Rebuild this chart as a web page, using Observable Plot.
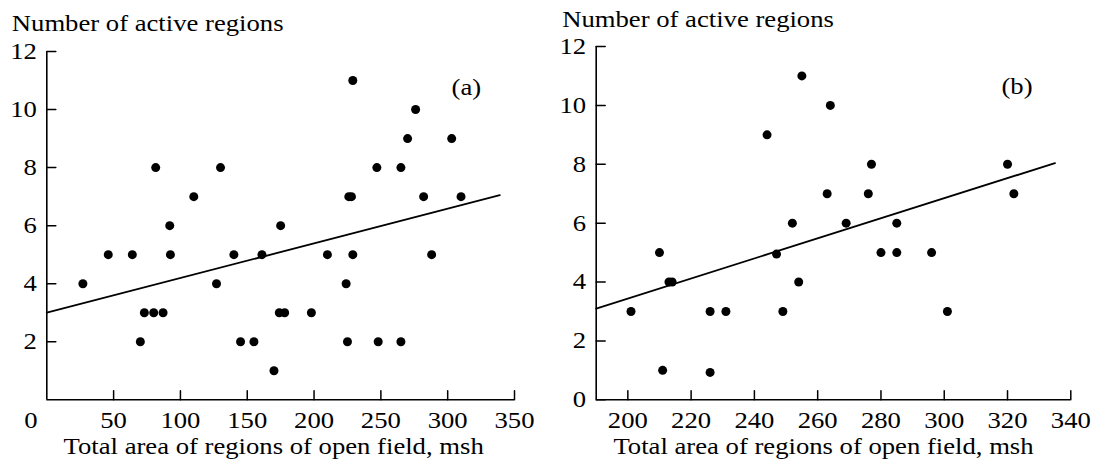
<!DOCTYPE html>
<html><head><meta charset="utf-8">
<script src="https://cdn.jsdelivr.net/npm/d3@7"></script>
<script src="https://cdn.jsdelivr.net/npm/@observablehq/plot@0.6"></script>
<style>
body{margin:0;background:#fff;}
#wrap{display:flex;width:1096px;height:464px;background:#fff;}
</style></head><body><div id="wrap"></div>
<script>
// Panel (a)
const aX = [27,46,64,70,73,80,87,81.5,92,92.5,110,127,130,140,145,155,161,170,174,175,178,198,210,224,225,226,228,229,229,247,248,265,265,270,276,282,288,303,310];
const aY = [4,5,5,2,3,3,3,8,6,5,7,4,8,5,2,2,5,1,3,6,3,3,5,4,2,7,7,11,5,8,2,8,2,9,10,7,5,9,7];
const aLineX = [0, 339];
const aLineY = [3.0, 7.05];
const aXTicks = [50,100,150,200,250,300,350];
const aYTicks = [2,4,6,8,10,12];
// Panel (b)
const bX = [201,210,211,213,214,226,226,231,244,247,249,252,254,255,263,264,269,276,277,280,285,285,296,301,320,322];
const bY = [3,5,1,4,4,3,0.93,3,9,4.95,3,6,4,11,7,10,6,7,8,5,6,5,5,3,8,7];
const bLineX = [190, 335];
const bLineY = [3.1, 8.04];
const bXTicks = [200,220,240,260,280,300,320,340];
const bYTicks = [0,2,4,6,8,10,12];

const yLabel = "Number of active regions";
const xLabel = "Total area of regions of open field, msh";
const FONT = "Liberation Serif";
const FS = 23;
const STRETCH = 1.16; // the reference type is horizontally wide

const tickUp = {draw(ctx, l) { ctx.moveTo(0, 0); ctx.lineTo(0, -l); }};

function panel({xs, ys, lx, ly, xTicks, yTicks, xDomain, tag, tagX, tagY, m, titleDx, titleDy, xlabDx, zeroLabel}) {
  const pts = xs.map((x, i) => ({x, y: ys[i]}));
  const line = lx.map((x, i) => ({x, y: ly[i]}));
  const marks = [
    Plot.ruleX([xDomain[0]], {stroke: "black", strokeWidth: 1.6}),
    Plot.ruleY([0], {stroke: "black", strokeWidth: 1.6}),
    Plot.vector(xTicks, {x: d => d, y: 0, length: 9, rotate: 0, anchor: "start", shape: tickUp, stroke: "black", strokeWidth: 1.5}),
    Plot.vector(yTicks, {x: xDomain[0], y: d => d, length: 9, rotate: 90, anchor: "start", shape: tickUp, stroke: "black", strokeWidth: 1.5}),
    Plot.axisX(xTicks, {tickSize: 0, tickPadding: 12, fontSize: FS, label: null}),
    Plot.axisY(yTicks, {tickSize: 0, tickPadding: 10, fontSize: FS, label: null}),
    Plot.line(line, {x: "x", y: "y", stroke: "black", strokeWidth: 1.8}),
    Plot.dot(pts, {x: "x", y: "y", r: 4.5, fill: "black"}),
    Plot.text([tag], {x: tagX, y: tagY, fontSize: FS, fill: "black"}),
    Plot.text([yLabel], {frameAnchor: "top-left", textAnchor: "start", lineAnchor: "bottom", dx: titleDx, dy: titleDy, fontSize: FS, fill: "black"}),
    Plot.text([xLabel], {frameAnchor: "bottom", lineAnchor: "bottom", dx: xlabDx, dy: 54, fontSize: FS, fill: "black"})
  ];
  if (zeroLabel) marks.push(Plot.text([zeroLabel], {x: xDomain[0], y: 0, dx: -16, dy: 12, lineAnchor: "top", fontSize: FS, fill: "black"}));
  const svg = Plot.plot({
    width: 548, height: 464,
    marginLeft: m[0], marginRight: m[1], marginTop: m[2], marginBottom: m[3],
    x: {domain: xDomain, label: null},
    y: {domain: [0, 12], label: null},
    style: {fontFamily: FONT, fontSize: FS + "px", color: "black", background: "white", overflow: "visible"},
    marks
  });
  // widen each text glyph run around its own anchor
  d3.select(svg).selectAll("text").each(function() {
    const t = this.getAttribute("transform") || "";
    this.setAttribute("transform", (t + ` scale(${STRETCH},1)`).trim());
  });
  return svg;
}

const wrap = document.getElementById("wrap");
wrap.append(panel({xs: aX, ys: aY, lx: aLineX, ly: aLineY, xTicks: aXTicks, yTicks: aYTicks, xDomain: [0, 350],
  tag: "(a)", tagX: 314, tagY: 10.76, m: [46.3, 34, 51, 64.7], titleDx: -35, titleDy: -21, xlabDx: -7, zeroLabel: "0"}));
wrap.append(panel({xs: bX, ys: bY, lx: bLineX, ly: bLineY, xTicks: bXTicks, yTicks: bYTicks, xDomain: [190, 340],
  tag: "(b)", tagX: 323, tagY: 10.63, m: [47.7, 25.7, 46, 64.7], titleDx: -34, titleDy: -20, xlabDx: -10, zeroLabel: null}));
</script>
</body></html>
